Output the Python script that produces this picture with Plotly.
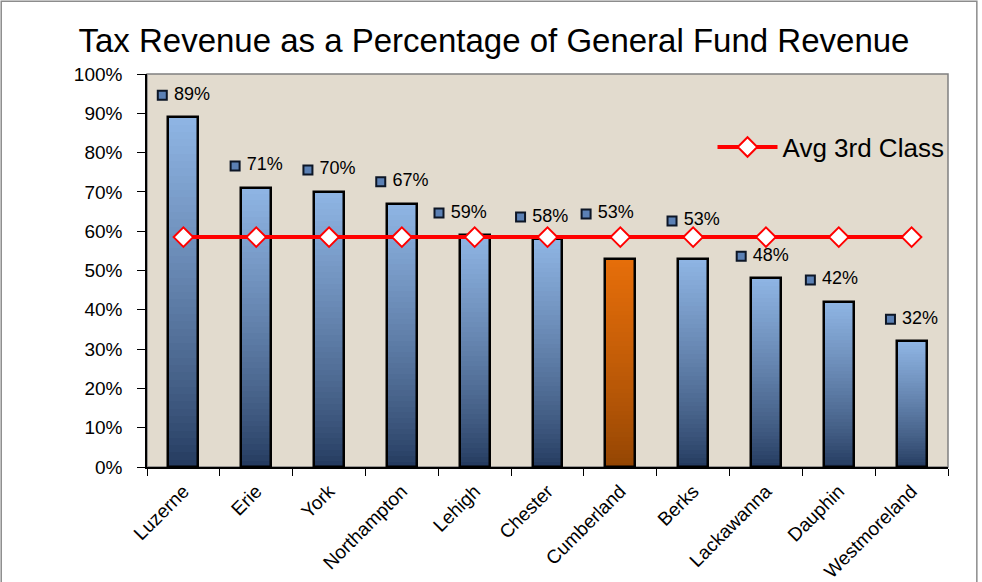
import plotly.graph_objects as go

# ---- data ----
counties = ["Luzerne", "Erie", "York", "Northampton", "Lehigh", "Chester",
            "Cumberland", "Berks", "Lackawanna", "Dauphin", "Westmoreland"]
tax_share = [0.89, 0.71, 0.70, 0.67, 0.59, 0.58, 0.53, 0.53, 0.48, 0.42, 0.32]
avg_3rd_class = [0.585] * len(counties)
highlight = "Cumberland"

# ---- styling ----
N = 48
blue_top, blue_bot = (143, 181, 228), (34, 56, 92)
orng_top, orng_bot = (230, 110, 10), (145, 68, 3)
FONT = "Liberation Sans, Arial"


def mix(a, b, t):
    t = t ** 0.8
    return "rgb(%d,%d,%d)" % tuple(round(a[i] * t + b[i] * (1 - t)) for i in range(3))


fig = go.Figure()

# gradient bars: nested overlays, tallest (lightest) first
for k in range(N - 1, -1, -1):
    t = (k + 0.5) / N
    cols = [mix(orng_top, orng_bot, t) if c == highlight else mix(blue_top, blue_bot, t)
            for c in counties]
    fig.add_trace(go.Bar(x=counties, y=[v * (k + 1) / N for v in tax_share],
                         width=0.41, marker=dict(color=cols, line=dict(width=0)),
                         showlegend=False, hoverinfo="skip"))

# bar outlines
fig.add_trace(go.Bar(x=counties, y=tax_share, width=0.41,
                     marker=dict(color="rgba(0,0,0,0)", line=dict(color="black", width=2.5)),
                     showlegend=False, hoverinfo="skip"))

# average line
fig.add_trace(go.Scatter(x=counties, y=avg_3rd_class, mode="lines+markers",
                         name="Avg 3rd Class",
                         line=dict(color="#FF0000", width=4),
                         marker=dict(symbol="diamond", size=15, color="white",
                                     line=dict(color="#FF0000", width=2))))

# data labels with legend-key squares (on a hidden numeric axis)
nudge = {"Lehigh": (-0.2, 0.0), "Chester": (-0.08, 0.0), "Cumberland": (-0.18, 0.058),
         "Berks": (0.0, 0.04), "Dauphin": (-0.1, 0.0), "Lackawanna": (-0.05, 0.0)}
lx, ly, lt = [], [], []
for i, (c, v) in enumerate(zip(counties, tax_share)):
    dx, dy = nudge.get(c, (0.0, 0.0))
    lx.append(i - 0.29 + dx)
    ly.append(v + 0.056 + dy)
    lt.append(" %d%%" % round(v * 100))
fig.add_trace(go.Scatter(x=lx, y=ly, xaxis="x2", mode="markers+text", text=lt,
                         textposition="middle right",
                         textfont=dict(family=FONT, size=18, color="black"),
                         marker=dict(symbol="square", size=9, color="#5b80b4",
                                     line=dict(color="#0d1626", width=2)),
                         showlegend=False, hoverinfo="skip"))

fig.update_layout(
    width=982, height=582,
    margin=dict(l=147, r=34, t=74, b=115, autoexpand=False),
    paper_bgcolor="white", plot_bgcolor="#E2DBCE",
    barmode="overlay", bargap=0,
    font=dict(family=FONT, color="black"),
    title=dict(text="Tax Revenue as a Percentage of General Fund Revenue",
               x=0.503, xanchor="center", y=0.931, yanchor="middle",
               font=dict(size=33, family=FONT, color="black")),
    xaxis=dict(type="category", range=[-0.5, 10.5], tickson="boundaries",
               ticks="outside", ticklen=7, tickcolor="black", showline=True,
               linecolor="black", linewidth=1.5, tickangle=-45, automargin=False,
               tickfont=dict(size=19), showgrid=False, ticklabelstandoff=4),
    xaxis2=dict(overlaying="x", range=[-0.5, 10.5], visible=False),
    yaxis=dict(range=[0, 1], dtick=0.1, tickformat=".0%", ticks="outside",
               ticklen=8, tickcolor="black", showline=True, linecolor="black",
               linewidth=1.5, showgrid=False, tickfont=dict(size=19), zeroline=False,
               ticklabelstandoff=11, automargin=False),
    legend=dict(x=0.706, y=0.814, xanchor="left", yanchor="middle",
                bgcolor="rgba(0,0,0,0)", font=dict(size=26), itemwidth=60),
    shapes=[
        dict(type="rect", xref="paper", yref="paper", x0=0, x1=1, y0=0, y1=1,
             line=dict(color="#808080", width=1.5), layer="below"),
        dict(type="rect", xref="paper", yref="paper", x0=-0.182, x1=1.036,
             y0=-0.5, y1=1.185, line=dict(color="#8c8c8c", width=1.5), layer="below"),
    ],
)

fig.write_html("out.html",
               config={"displayModeBar": False},
               post_script="document.body.style.margin='0';"
                           "document.documentElement.style.overflow='hidden';")
